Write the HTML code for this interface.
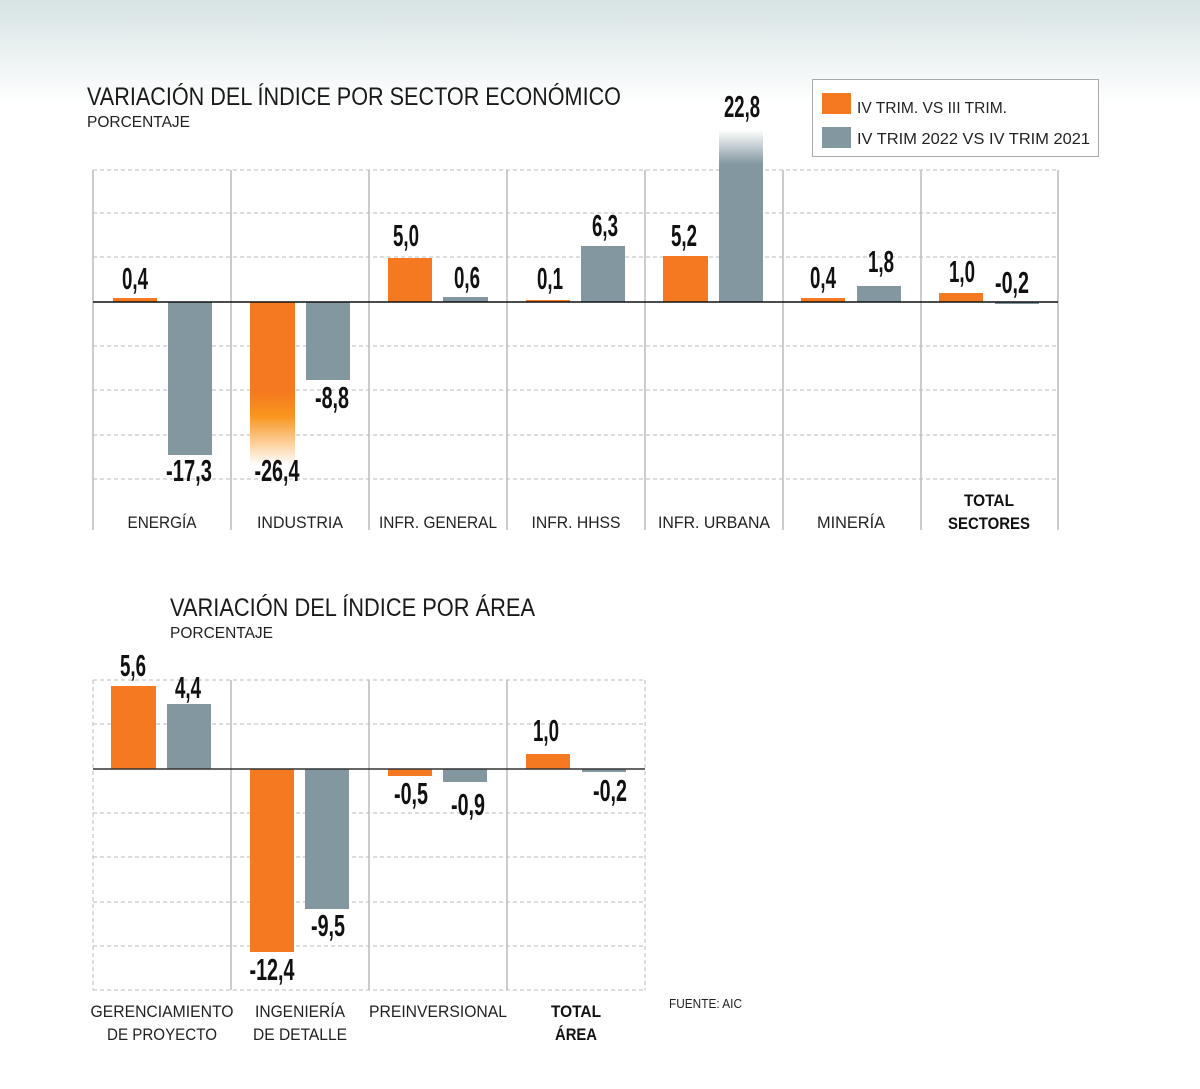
<!DOCTYPE html>
<html><head><meta charset="utf-8"><style>
html,body{margin:0;padding:0;background:#fff;}
svg{display:block;}
.v{font-family:"Liberation Sans Narrow","Liberation Sans",sans-serif;font-weight:bold;font-size:31px;fill:#111;text-anchor:middle;}
.c{font-family:"Liberation Sans",sans-serif;font-size:17px;fill:#222;text-anchor:middle;}
.cb{font-family:"Liberation Sans",sans-serif;font-size:17px;fill:#111;font-weight:bold;text-anchor:middle;}
.t{font-family:"Liberation Sans",sans-serif;font-size:25px;fill:#1a1a1a;}
.s{font-family:"Liberation Sans",sans-serif;font-size:16px;fill:#222;}
.g{stroke:#bbb;stroke-dasharray:4,3;stroke-width:1;}
.vl{stroke:#bbb;stroke-width:1.5;}
</style></head><body>
<svg width="1200" height="1089" viewBox="0 0 1200 1089" xmlns="http://www.w3.org/2000/svg">
<defs>
<linearGradient id="bg" x1="0" y1="0" x2="0" y2="1"><stop offset="0" stop-color="#d7e3e4"/><stop offset="1" stop-color="#ffffff"/></linearGradient>
<linearGradient id="fo" x1="0" y1="0" x2="0" y2="1"><stop offset="0" stop-color="#f47920"/><stop offset="0.55" stop-color="#f47920"/><stop offset="0.7" stop-color="#f9961e"/><stop offset="1" stop-color="#ffffff"/></linearGradient>
<linearGradient id="fg" x1="0" y1="1" x2="0" y2="0"><stop offset="0" stop-color="#82979f"/><stop offset="0.8" stop-color="#82979f"/><stop offset="1" stop-color="#ffffff"/></linearGradient>
</defs>
<rect x="0" y="0" width="1200" height="105" fill="url(#bg)"/>

<text class="t" x="87" y="105" textLength="534" lengthAdjust="spacingAndGlyphs">VARIACIÓN DEL ÍNDICE POR SECTOR ECONÓMICO</text>
<text class="s" x="87" y="127" textLength="103" lengthAdjust="spacingAndGlyphs">PORCENTAJE</text>

<rect x="812.5" y="79.5" width="286" height="77" fill="#fff" stroke="#aaa"/>
<rect x="822" y="93" width="29" height="21" fill="#f47920"/>
<rect x="822" y="127" width="29" height="21" fill="#82979f"/>
<text class="s" x="857" y="113" textLength="150" lengthAdjust="spacingAndGlyphs">IV TRIM. VS III TRIM.</text>
<text class="s" x="857" y="144" textLength="233" lengthAdjust="spacingAndGlyphs">IV TRIM 2022 VS IV TRIM 2021</text>

<g>
<line class="g" x1="93" y1="170" x2="1058" y2="170"/>
<line class="g" x1="93" y1="213" x2="1058" y2="213"/>
<line class="g" x1="93" y1="257" x2="1058" y2="257"/>
<line class="g" x1="93" y1="346" x2="1058" y2="346"/>
<line class="g" x1="93" y1="390" x2="1058" y2="390"/>
<line class="g" x1="93" y1="435" x2="1058" y2="435"/>
<line class="g" x1="93" y1="479" x2="1058" y2="479"/>
<line class="vl" x1="93" y1="170" x2="93" y2="530"/>
<line class="vl" x1="231" y1="170" x2="231" y2="530"/>
<line class="vl" x1="369" y1="170" x2="369" y2="530"/>
<line class="vl" x1="507" y1="170" x2="507" y2="530"/>
<line class="vl" x1="645" y1="170" x2="645" y2="530"/>
<line class="vl" x1="783" y1="170" x2="783" y2="530"/>
<line class="vl" x1="921" y1="170" x2="921" y2="530"/>
<line class="vl" x1="1058" y1="170" x2="1058" y2="530"/>
</g>
<rect x="113" y="298" width="44" height="4" fill="#f47920"/>
<rect x="168" y="302" width="44" height="153" fill="#82979f"/>
<rect x="250" y="302" width="45" height="163" fill="url(#fo)"/>
<rect x="306" y="302" width="44" height="78" fill="#82979f"/>
<rect x="388" y="258" width="44" height="44" fill="#f47920"/>
<rect x="443" y="297" width="45" height="5" fill="#82979f"/>
<rect x="526" y="300" width="44" height="2" fill="#f47920"/>
<rect x="581" y="246" width="44" height="56" fill="#82979f"/>
<rect x="663" y="256" width="45" height="46" fill="#f47920"/>
<rect x="719" y="130" width="44" height="172" fill="url(#fg)"/>
<rect x="801" y="298" width="44" height="4" fill="#f47920"/>
<rect x="857" y="286" width="44" height="16" fill="#82979f"/>
<rect x="939" y="293" width="44" height="9" fill="#f47920"/>
<rect x="995" y="302" width="44" height="2" fill="#82979f"/>
<line x1="93" y1="302" x2="1058" y2="302" stroke="#111" stroke-width="1.5"/>
<text class="v" x="135" y="289" textLength="26" lengthAdjust="spacingAndGlyphs">0,4</text>
<text class="v" x="189" y="481" textLength="46" lengthAdjust="spacingAndGlyphs">-17,3</text>
<text class="v" x="277" y="481" textLength="45" lengthAdjust="spacingAndGlyphs">-26,4</text>
<text class="v" x="332" y="408" textLength="34" lengthAdjust="spacingAndGlyphs">-8,8</text>
<text class="v" x="406" y="246" textLength="26" lengthAdjust="spacingAndGlyphs">5,0</text>
<text class="v" x="467" y="288" textLength="26" lengthAdjust="spacingAndGlyphs">0,6</text>
<text class="v" x="550" y="289" textLength="26" lengthAdjust="spacingAndGlyphs">0,1</text>
<text class="v" x="605" y="236" textLength="26" lengthAdjust="spacingAndGlyphs">6,3</text>
<text class="v" x="684" y="246" textLength="26" lengthAdjust="spacingAndGlyphs">5,2</text>
<text class="v" x="742" y="117" textLength="36" lengthAdjust="spacingAndGlyphs">22,8</text>
<text class="v" x="823" y="288" textLength="26" lengthAdjust="spacingAndGlyphs">0,4</text>
<text class="v" x="881" y="272" textLength="26" lengthAdjust="spacingAndGlyphs">1,8</text>
<text class="v" x="962" y="282" textLength="26" lengthAdjust="spacingAndGlyphs">1,0</text>
<text class="v" x="1012" y="293" textLength="34" lengthAdjust="spacingAndGlyphs">-0,2</text>
<text class="c" x="162" y="528" textLength="69" lengthAdjust="spacingAndGlyphs">ENERGÍA</text>
<text class="c" x="300" y="528" textLength="86" lengthAdjust="spacingAndGlyphs">INDUSTRIA</text>
<text class="c" x="438" y="528" textLength="118" lengthAdjust="spacingAndGlyphs">INFR. GENERAL</text>
<text class="c" x="576" y="528" textLength="89" lengthAdjust="spacingAndGlyphs">INFR. HHSS</text>
<text class="c" x="714" y="528" textLength="112" lengthAdjust="spacingAndGlyphs">INFR. URBANA</text>
<text class="c" x="851" y="528" textLength="68" lengthAdjust="spacingAndGlyphs">MINERÍA</text>
<text class="cb" x="989" y="506" textLength="50" lengthAdjust="spacingAndGlyphs">TOTAL</text>
<text class="cb" x="989" y="529" textLength="82" lengthAdjust="spacingAndGlyphs">SECTORES</text>

<text class="t" x="170" y="616" textLength="365" lengthAdjust="spacingAndGlyphs">VARIACIÓN DEL ÍNDICE POR ÁREA</text>
<text class="s" x="170" y="638" textLength="103" lengthAdjust="spacingAndGlyphs">PORCENTAJE</text>
<g>
<line class="g" x1="93" y1="680" x2="645" y2="680"/>
<line class="g" x1="93" y1="724" x2="645" y2="724"/>
<line class="g" x1="93" y1="813" x2="645" y2="813"/>
<line class="g" x1="93" y1="857" x2="645" y2="857"/>
<line class="g" x1="93" y1="902" x2="645" y2="902"/>
<line class="g" x1="93" y1="946" x2="645" y2="946"/>
<line class="g" x1="93" y1="990" x2="645" y2="990"/>
<line class="g" x1="93" y1="680" x2="93" y2="990"/>
<line class="vl" x1="231" y1="680" x2="231" y2="990"/>
<line class="vl" x1="369" y1="680" x2="369" y2="990"/>
<line class="vl" x1="507" y1="680" x2="507" y2="990"/>
<line class="g" x1="645" y1="680" x2="645" y2="990"/>
</g>
<rect x="111" y="686" width="45" height="83" fill="#f47920"/>
<rect x="167" y="704" width="44" height="65" fill="#82979f"/>
<rect x="250" y="769" width="44" height="183" fill="#f47920"/>
<rect x="305" y="769" width="44" height="140" fill="#82979f"/>
<rect x="388" y="769" width="44" height="7" fill="#f47920"/>
<rect x="443" y="769" width="44" height="13" fill="#82979f"/>
<rect x="526" y="754" width="44" height="15" fill="#f47920"/>
<rect x="582" y="769" width="44" height="3" fill="#82979f"/>
<line x1="93" y1="769" x2="645" y2="769" stroke="#333" stroke-width="1.5"/>
<text class="v" x="133" y="676" textLength="26" lengthAdjust="spacingAndGlyphs">5,6</text>
<text class="v" x="188" y="698" textLength="26" lengthAdjust="spacingAndGlyphs">4,4</text>
<text class="v" x="272" y="980" textLength="45" lengthAdjust="spacingAndGlyphs">-12,4</text>
<text class="v" x="328" y="936" textLength="34" lengthAdjust="spacingAndGlyphs">-9,5</text>
<text class="v" x="411" y="804" textLength="34" lengthAdjust="spacingAndGlyphs">-0,5</text>
<text class="v" x="468" y="815" textLength="34" lengthAdjust="spacingAndGlyphs">-0,9</text>
<text class="v" x="546" y="741" textLength="26" lengthAdjust="spacingAndGlyphs">1,0</text>
<text class="v" x="610" y="801" textLength="34" lengthAdjust="spacingAndGlyphs">-0,2</text>
<text class="c" x="162" y="1017" textLength="143" lengthAdjust="spacingAndGlyphs">GERENCIAMIENTO</text>
<text class="c" x="162" y="1040" textLength="110" lengthAdjust="spacingAndGlyphs">DE PROYECTO</text>
<text class="c" x="300" y="1017" textLength="90" lengthAdjust="spacingAndGlyphs">INGENIERÍA</text>
<text class="c" x="300" y="1040" textLength="94" lengthAdjust="spacingAndGlyphs">DE DETALLE</text>
<text class="c" x="438" y="1017" textLength="138" lengthAdjust="spacingAndGlyphs">PREINVERSIONAL</text>
<text class="cb" x="576" y="1017" textLength="50" lengthAdjust="spacingAndGlyphs">TOTAL</text>
<text class="cb" x="576" y="1040" textLength="42" lengthAdjust="spacingAndGlyphs">ÁREA</text>
<text class="s" x="669" y="1008" style="font-size:13px" textLength="73" lengthAdjust="spacingAndGlyphs">FUENTE: AIC</text>
</svg>
</body></html>
